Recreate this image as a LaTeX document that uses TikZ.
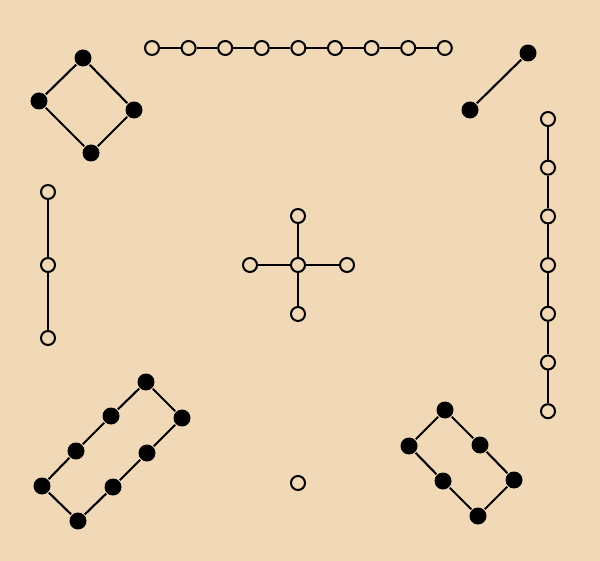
\documentclass[tikz,border=0pt]{standalone}
\usepackage{tikz}
\definecolor{parch}{RGB}{241,217,183}

\begin{document}
\begin{tikzpicture}[x=1pt,y=-1pt,line width=2.1pt,
  opn/.style={circle,draw=black,fill=parch,line width=2pt,inner sep=0pt,minimum size=14pt},
  blk/.style={circle,fill=black,inner sep=0pt,minimum size=17pt}]
  \fill[parch] (0,0) rectangle (600,561);
  \useasboundingbox (0,0) rectangle (600,561);
  % square top left
  \node[blk] (q1) at (83,58) {};
  \node[blk] (q2) at (134,110) {};
  \node[blk] (q3) at (91,153) {};
  \node[blk] (q4) at (39,101) {};
  \draw (q1) -- (q2) -- (q3) -- (q4) -- (q1);
  % top chain
  \foreach \i in {0,...,8}
    \node[opn] (t\i) at (152+36.6*\i,48) {};
  \foreach \i [count=\j] in {0,...,7}
    \draw (t\i) -- (t\j);
  % single edge top right
  \node[blk] (e1) at (528,53) {};
  \node[blk] (e2) at (470,110) {};
  \draw (e1) -- (e2);
  % right chain
  \foreach \i in {0,...,6}
    \node[opn] (r\i) at (548,119+48.7*\i) {};
  \foreach \i [count=\j] in {0,...,5}
    \draw (r\i) -- (r\j);
  % left chain
  \node[opn] (l0) at (48,192) {};
  \node[opn] (l1) at (48,265) {};
  \node[opn] (l2) at (48,338) {};
  \draw (l0) -- (l1) -- (l2);
  % cross
  \node[opn] (c) at (298,265) {};
  \node[opn] (cn) at (298,216) {};
  \node[opn] (cs) at (298,314) {};
  \node[opn] (cw) at (250,265) {};
  \node[opn] (ce) at (347,265) {};
  \draw (cn) -- (c) -- (cs);
  \draw (cw) -- (c) -- (ce);
  % loop bottom left
  \node[blk] (a1) at (146,382) {};
  \node[blk] (a2) at (182,418) {};
  \node[blk] (a3) at (147,453) {};
  \node[blk] (a4) at (113,487) {};
  \node[blk] (a5) at (78,521) {};
  \node[blk] (a6) at (42,486) {};
  \node[blk] (a7) at (76,451) {};
  \node[blk] (a8) at (111,416) {};
  \draw (a1) -- (a2) -- (a3) -- (a4) -- (a5) -- (a6) -- (a7) -- (a8) -- (a1);
  % loop bottom right
  \node[blk] (b1) at (445,410) {};
  \node[blk] (b2) at (480,445) {};
  \node[blk] (b3) at (514,480) {};
  \node[blk] (b4) at (478,516) {};
  \node[blk] (b5) at (443,481) {};
  \node[blk] (b6) at (409,446) {};
  \draw (b1) -- (b2) -- (b3) -- (b4) -- (b5) -- (b6) -- (b1);
  % isolated
  \node[opn] (s) at (298,483) {};
\end{tikzpicture}
\end{document}
